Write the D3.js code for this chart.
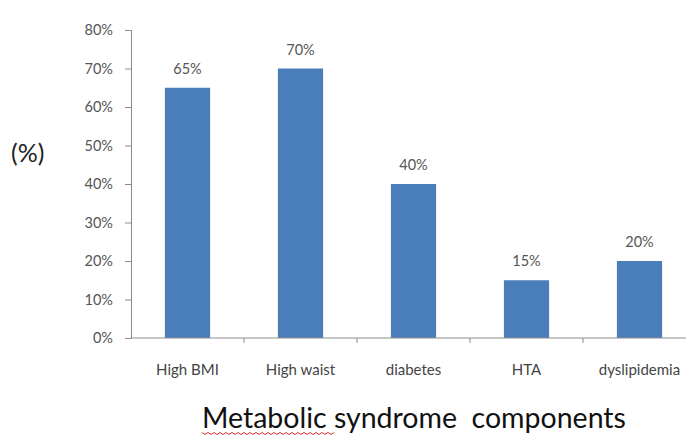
<!DOCTYPE html>
<html>
<head>
<meta charset="utf-8">
<script src="https://cdn.jsdelivr.net/npm/d3@7"></script>
<style>
  body { margin: 0; background: #fff; }
  svg { display: block; }
</style>
</head>
<body>
<script>
var categories = ["High BMI", "High waist", "diabetes", "HTA", "dyslipidemia"];
var values = [65, 70, 40, 15, 20];
var yTicks = [0, 10, 20, 30, 40, 50, 60, 70, 80];

var W = 686, H = 436;
var margin = {left: 131, top: 30, bottom: 98};
var plotH = H - margin.top - margin.bottom;

var svg = d3.select("body").append("svg")
  .attr("width", W)
  .attr("height", H);

var x = d3.scaleBand()
  .domain(categories)
  .range([margin.left, margin.left + 565])
  .paddingInner(0.6)
  .paddingOuter(0.3);

var xTicks = d3.scaleBand()
  .domain(categories)
  .range([margin.left, margin.left + 565]);

var y = d3.scaleLinear()
  .domain([0, 80])
  .range([margin.top + plotH, margin.top]);

// y axis
var yAxis = svg.append("g")
  .attr("transform", "translate(" + margin.left + ",0)")
  .call(d3.axisLeft(y).tickValues(yTicks).tickSize(6).tickPadding(12)
    .tickFormat(function(d) { return d + "%"; }));
yAxis.select(".domain").attr("stroke", "#8c8c8c");
yAxis.selectAll(".tick line").attr("stroke", "#8c8c8c");
yAxis.selectAll("text")
  .attr("fill", "#555")
  .style("font-family", "Lato, sans-serif")
  .style("font-size", "14.5px");

// bars
svg.selectAll("rect.bar")
  .data(values)
  .enter()
  .append("rect")
    .attr("class", "bar")
    .attr("x", function(d, i) { return x(categories[i]); })
    .attr("width", x.bandwidth())
    .attr("y", function(d) { return y(d); })
    .attr("height", function(d) { return y(0) - y(d); })
    .attr("fill", "#4a7ebb");

// value labels
svg.selectAll("text.val")
  .data(values)
  .enter()
  .append("text")
    .attr("class", "val")
    .attr("x", function(d, i) { return x(categories[i]) + x.bandwidth() / 2; })
    .attr("y", function(d) { return y(d) - 14; })
    .attr("text-anchor", "middle")
    .attr("fill", "#555")
    .style("font-family", "Lato, sans-serif")
    .style("font-size", "14.5px")
    .text(function(d) { return d + "%"; });

// x axis
var xAxis = svg.append("g")
  .attr("transform", "translate(0," + y(0) + ")");
xAxis.append("line")
  .attr("x1", margin.left).attr("x2", W)
  .attr("stroke", "#8c8c8c");
xAxis.selectAll("line.tk")
  .data(categories.slice(1))
  .enter()
  .append("line")
    .attr("class", "tk")
    .attr("x1", function(d) { return xTicks(d); })
    .attr("x2", function(d) { return xTicks(d); })
    .attr("y1", 0).attr("y2", 5)
    .attr("stroke", "#8c8c8c");
xAxis.selectAll("text")
  .data(categories)
  .enter()
  .append("text")
    .attr("x", function(d) { return x(d) + x.bandwidth() / 2; })
    .attr("y", 37)
    .attr("text-anchor", "middle")
    .attr("fill", "#444")
    .style("font-family", "Lato, sans-serif")
    .style("font-size", "15px")
    .text(function(d) { return d; });

// y title
svg.append("text")
  .attr("x", 11)
  .attr("y", 162)
  .attr("fill", "#222")
  .style("font-family", "Lato, sans-serif")
  .style("font-size", "25px")
  .text("(%)");

// x title
svg.append("text")
  .attr("x", 202)
  .attr("y", 428)
  .attr("fill", "#111")
  .style("font-family", "Lato, sans-serif")
  .style("font-size", "28.5px")
  .style("white-space", "pre")
  .text("Metabolic syndrome  components");

// spell-check squiggle under "Metabolic"
var sq = [];
for (var px = 202; px <= 335; px += 3) {
  sq.push([px, 433 + ((px - 202) / 3 % 2 ? 1.5 : -0.5)]);
}
svg.append("path")
  .attr("d", d3.line()(sq))
  .attr("fill", "none")
  .attr("stroke", "#e03030")
  .attr("stroke-width", 1);
</script>
</body>
</html>
